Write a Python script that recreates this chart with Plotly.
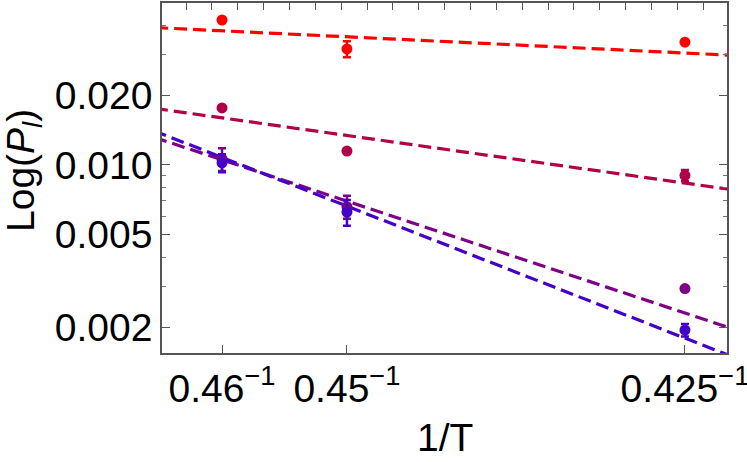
import numpy as np
import plotly.graph_objects as go

# Temperatures and x = 1/T
temps = [0.46, 0.45, 0.425]
tick_text = ["0.46<sup>\u22121</sup>", "0.45<sup>\u22121</sup>", "0.425<sup>\u22121</sup>"]

# Series values (P_l) and error bars
series_names = ["s1", "s2", "s3", "s4"]
series_colors = ["rgb(255,0,0)", "rgb(178,0,72)", "rgb(125,0,135)", "rgb(68,0,200)"]
p_red = [0.0421, 0.0316, 0.0338]
e_red = [0.0008, 0.0025, 0.0006]
p_crimson = [0.0176, 0.01147, 0.0090]
e_crimson = [0.0003, 0.0002, 0.0005]
p_purple = [0.0106, 0.00660, 0.00293]
e_purple = [0.0012, 0.00075, 0.00006]
p_blue = [0.0102, 0.00626, 0.00194]
e_blue = [0.0009, 0.0008, 0.00012]

# Fit lines: log10(P) = fit_mid + fit_slope * (1/T - 2.25)
fit_mid = [-1.463, -1.917, -2.259, -2.299]
fit_slope = [-0.535, -1.570, -3.689, -4.352]

y_ticks = [0.002, 0.005, 0.010, 0.020]
y_tick_text = ["0.002", "0.005", "0.010", "0.020"]
y_minor = [0.0015, 0.003, 0.004, 0.006, 0.007, 0.008, 0.009, 0.03, 0.04]
x_top_ticks = [round(2.15 + 0.01 * i, 2) for i in range(23)]

x_range = [2.1507, 2.3692]
y_range = [-2.811, -1.3024]

xs = [1.0 / t for t in temps]
values = [p_red, p_crimson, p_purple, p_blue]
errors = [e_red, e_crimson, e_purple, e_blue]

fig = go.Figure()
line_x = np.array([x_range[0] - 0.01, x_range[1] + 0.01])
for i in range(4):
    fig.add_trace(go.Scatter(
        x=line_x, y=10 ** (fit_mid[i] + fit_slope[i] * (line_x - 2.25)),
        mode="lines", line=dict(color=series_colors[i], width=3.2, dash="13px,6px"),
        showlegend=False, hoverinfo="skip"))
for i in range(4):
    fig.add_trace(go.Scatter(
        x=xs, y=values[i], mode="markers",
        marker=dict(color=series_colors[i], size=11),
        error_y=dict(type="data", array=errors[i], color=series_colors[i], thickness=2.5, width=4),
        showlegend=False, name=series_names[i]))

# invisible trace for top axis
fig.add_trace(go.Scatter(x=x_range, y=[0.01, 0.01], xaxis="x2", mode="markers",
                         marker=dict(opacity=0), showlegend=False, hoverinfo="skip"))

L, R, T, B = 162, 20, 3, 109
W, H = 747, 462
pw, ph = W - L - R, H - T - B

font = "Liberation Sans, Arial, sans-serif"
fs = 39
fig.update_layout(
    width=W, height=H,
    margin=dict(l=L, r=R, t=T, b=B),
    plot_bgcolor="white", paper_bgcolor="white",
    font=dict(family=font, size=fs, color="black"),
    xaxis=dict(range=x_range, tickmode="array", tickvals=xs, ticktext=tick_text,
               ticks="inside", ticklen=8, tickcolor="#555", tickwidth=1,
               showline=True, linecolor="#555", linewidth=1.5, mirror=True,
               showgrid=False, zeroline=False, automargin=False,
               ticklabeloverflow="allow", tickfont=dict(size=fs)),
    xaxis2=dict(range=x_range, overlaying="x", side="top", tickmode="array",
                tickvals=x_top_ticks, showticklabels=False, ticks="inside", ticklen=7,
                tickcolor="#555", showgrid=False, zeroline=False, showline=False,
                automargin=False),
    yaxis=dict(type="log", range=y_range, tickmode="array", tickvals=y_ticks,
               ticktext=y_tick_text, ticks="inside", ticklen=8, tickcolor="#555",
               showline=True, linecolor="#555", linewidth=1.5, mirror="ticks",
               showgrid=False, zeroline=False, automargin=False,
               ticklabeloverflow="allow",
               minor=dict(tickmode="array", tickvals=y_minor, ticks="inside", ticklen=4,
                          tickcolor="#777", showgrid=False),
               tickfont=dict(size=fs)),
    annotations=[
        dict(text="Log(<i>P<sub>l</sub></i>)", xref="paper", yref="paper",
             x=(23 - L) / pw, y=(H - B - 171) / ph, textangle=-90, showarrow=False,
             xanchor="center", yanchor="middle", font=dict(size=fs)),
        dict(text="1/T", xref="paper", yref="paper",
             x=(445 - L) / pw, y=(H - B - 437) / ph, showarrow=False,
             xanchor="center", yanchor="middle", font=dict(size=fs)),
    ],
)

fig.write_html("out.html", config={"displayModeBar": False},
               post_script="document.body.style.margin='0';document.body.style.padding='0';")
